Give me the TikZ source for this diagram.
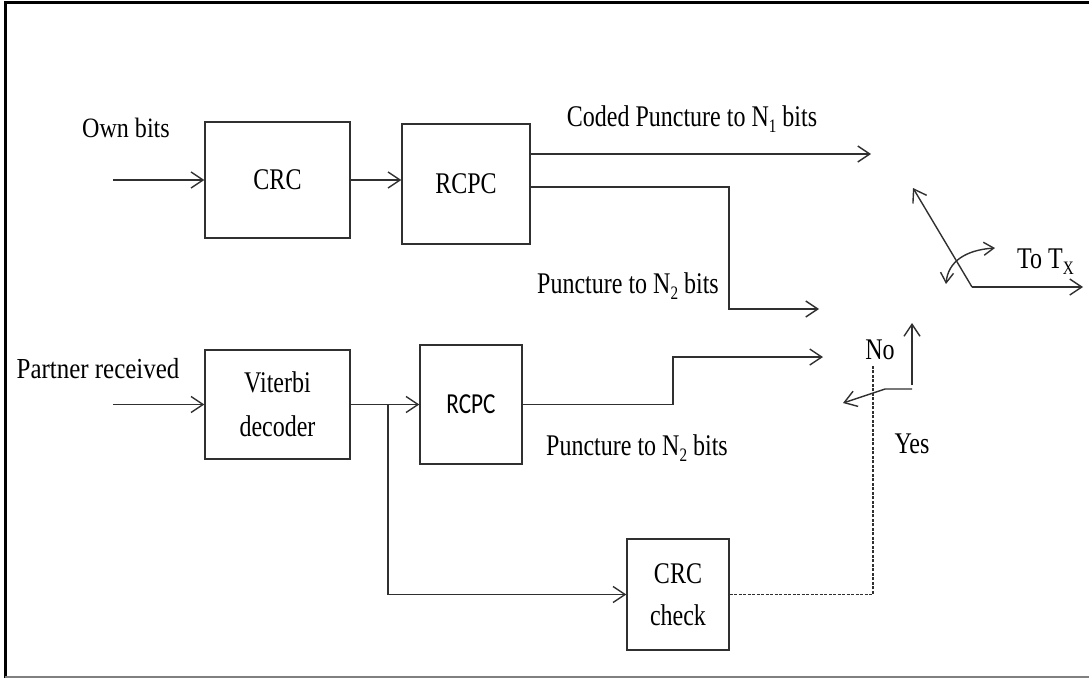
\documentclass[tikz,border=0pt]{standalone}
\usepackage{fontspec}
\setmainfont{Liberation Serif}[FakeStretch=0.8]
\newfontfamily\wideserif{Liberation Serif}[FakeStretch=0.86]
\newfontfamily\calib{Carlito}[FakeStretch=0.8]
\usetikzlibrary{arrows.meta}
\definecolor{lncol}{HTML}{303030}
\newcommand\lowsub[1]{\raisebox{-0.2em}{\fontsize{19}{19}\selectfont #1}}
\tikzset{
  ln/.style={line width=1.4pt, draw=lncol},
  arr/.style={ln, -{Straight Barb[length=12pt,width=16pt]}},
  blk/.style={draw=lncol, line width=1.4pt, inner sep=0pt, align=center, font=\fontsize{30}{44}\selectfont},
  lbl/.style={font=\fontsize{30}{36}\selectfont, inner sep=0pt, anchor=base},
}
\begin{document}
\begin{tikzpicture}[x=1pt,y=-1pt]
\useasboundingbox (0,0) rectangle (1089,678);
% frame
\draw[line width=3pt, black] (5.5,678) -- (5.5,2.5) -- (1089,2.5);
\draw[gray, line width=1.5pt] (5,677) -- (1089,677);

% blocks
\node[blk, minimum width=145pt, minimum height=116pt] (crc) at (277.5,180) {CRC};
\node[blk, minimum width=128pt, minimum height=120pt] (rcpc1) at (466,184) {RCPC};
\node[blk, minimum width=145pt, minimum height=109pt] (vit) at (277.5,404.5) {Viterbi\\decoder};
\node[blk, minimum width=102pt, minimum height=119pt, font=\calib\fontsize{29}{34}\selectfont] (rcpc2) at (471,404.5) {RCPC};
\node[blk, minimum width=102pt, minimum height=111pt, font=\fontsize{30}{42}\selectfont] (chk) at (678,594.5) {CRC\\check};

% coordinates
\coordinate (in1) at (113,180);
\coordinate (in2) at (113,404.5);
\coordinate (c1) at (871,154);
\coordinate (b1) at (729,187);
\coordinate (p2) at (819,309);
\coordinate (br) at (388,404.5);
\coordinate (b2) at (673,357);
\coordinate (p3) at (823,357);
\coordinate (dtop) at (873,365);
\coordinate (piv) at (972,287);
\coordinate (lev) at (913,188);
\coordinate (out) at (1083,287);
\coordinate (ca) at (946,284);
\coordinate (cb) at (995,248);
\coordinate (s0) at (912,389);
\coordinate (sup) at (912,323);
\coordinate (s1) at (885,389);
\coordinate (sl) at (843,403);

% connectors
\draw[arr] (in1) -- (crc.west);
\draw[arr] (crc.east) -- (crc.east -| rcpc1.west);
\draw[arr] (rcpc1.east |- c1) -- (c1);
\draw[arr] (rcpc1.east |- b1) -- (b1) |- (p2);
\draw[arr] (in2) -- (vit.west);
\draw[arr] (vit.east) -- (rcpc2.west);
\draw[arr] (br) |- (chk.west);
\draw[arr] (rcpc2.east) -| (b2) -- (p3);
\draw[ln, dash pattern=on 3pt off 1.5pt, line width=1.2pt] (chk.east) -| (dtop);

% switch
\draw[arr] (piv) -- (lev);
\draw[arr] (piv) -- (out);
\draw[ln, {Straight Barb[length=10pt,width=13pt]}-{Straight Barb[length=10pt,width=13pt]}] (ca) .. controls (948,262) and (965,250) .. (cb);
\draw[arr] ([yshift=4pt]s0) -- (sup);
\draw[arr] (s0) -- (s1) -- (sl);

% labels
\node[lbl, font=\wideserif\fontsize{28}{34}\selectfont] at (126,137) {Own bits};
\node[lbl, font=\wideserif\fontsize{29}{34}\selectfont] at (98,378) {Partner received};
\node[lbl] at (692,126) {Coded Puncture to N\lowsub{1} bits};
\node[lbl] at (628,293) {Puncture to N\lowsub{2} bits};
\node[lbl] at (637,455) {Puncture to N\lowsub{2} bits};
\node[lbl] at (880,359) {No};
\node[lbl] at (912,453) {Yes};
\node[lbl, anchor=base west] at (1017,268) {To T\lowsub{X}};
\end{tikzpicture}
\end{document}
